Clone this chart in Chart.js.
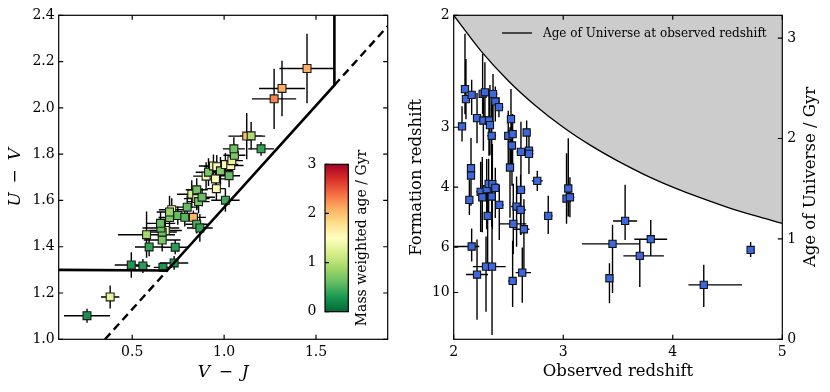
<!DOCTYPE html>
<html><head><meta charset="utf-8">
<script src="https://cdn.jsdelivr.net/npm/chart.js@4.4.0/dist/chart.umd.min.js"></script>
<style>
html,body{margin:0;padding:0;background:#fff;}
#wrap{position:relative;width:830px;height:392px;overflow:hidden;background:#fff;}
canvas{position:absolute;top:0;}
</style></head><body>
<div id="wrap">
<canvas id="c1" width="405" height="392" style="left:0px"></canvas>
<canvas id="c2" width="425" height="392" style="left:405px"></canvas>
</div>
<script>
// ---------- Left panel: UVJ diagram ----------
const vjTicks = [0.5, 1.0, 1.5];
const uvTicks = [1.0, 1.2, 1.4, 1.6, 1.8, 2.0, 2.2, 2.4];
const vj = [0.715,0.680,0.254,0.380,0.495,0.558,0.667,0.728,0.592,0.734,0.663,0.578,0.663,0.656,0.654,0.703,0.703,0.748,0.786,0.799,0.833,0.851,0.868,0.824,0.851,0.851,0.861,0.880,0.902,0.915,0.942,0.960,0.953,0.958,0.980,1.007,1.036,1.027,1.042,1.056,1.053,1.007,1.123,1.147,1.201,1.272,1.315,1.451];
const uv = [1.560,1.470,1.102,1.183,1.321,1.317,1.311,1.330,1.399,1.398,1.429,1.452,1.463,1.481,1.501,1.526,1.550,1.535,1.527,1.571,1.527,1.497,1.481,1.627,1.646,1.608,1.595,1.614,1.705,1.722,1.749,1.746,1.693,1.651,1.728,1.755,1.751,1.707,1.772,1.795,1.823,1.601,1.878,1.879,1.823,2.039,2.084,2.170];
const massAge = [1.4,1.4,0.25,1.3,0.3,0.35,0.3,0.3,0.4,0.35,0.7,0.9,0.65,0.6,0.6,0.7,0.85,0.6,0.55,0.6,2.05,0.5,0.4,1.2,0.65,1.4,0.7,0.6,1.4,0.7,1.35,1.45,1.5,1.45,0.75,1.5,1.55,0.6,1.3,0.7,0.65,0.45,2.0,0.95,0.4,2.3,2.1,2.1];
const vjErr = [0.07,0.09,0.125,0.05,0.09,0.04,0.05,0.077,0.077,0.068,0.1,0.155,0.08,0.1,0.08,0.06,0.07,0.06,0.08,0.06,0.068,0.06,0.07,0.08,0.06,0.07,0.06,0.07,0.07,0.07,0.08,0.07,0.06,0.05,0.07,0.07,0.07,0.06,0.06,0.06,0.06,0.077,0.1,0.06,0.07,0.12,0.125,0.15];
const uvErr = [0.05,0.05,0.03,0.05,0.055,0.03,0.02,0.03,0.04,0.03,0.05,0.1,0.04,0.04,0.05,0.04,0.07,0.04,0.04,0.05,0.03,0.04,0.06,0.06,0.05,0.05,0.05,0.04,0.06,0.06,0.05,0.05,0.05,0.05,0.06,0.05,0.05,0.05,0.05,0.05,0.05,0.05,0.1,0.06,0.03,0.13,0.12,0.15];
// selection boundary (U-V = 1.3, U-V = 0.88(V-J)+0.69, V-J = 1.6)
const selSolidVJ = [0.1, 0.69, 1.6, 1.6];
const selSolidUV = [1.3, 1.297, 2.098, 2.4];
const selDashVJ = [0.352, 0.69, null, 1.6, 1.89];
const selDashUV = [1.0, 1.297, null, 2.098, 2.353];
const cbarTicks = [0, 1, 2, 3];

// ---------- Right panel: formation vs observed redshift ----------
const zObsTicks = [2, 3, 4, 5];
const ageTicks = [0, 1, 2, 3];
const zFormTickLabels = ['2', '3', '4', '6', '10'];
const zFormTickAgeGyr = [3.227, 2.112, 1.516, 0.917, 0.466];
const curveZ = [2.0, 2.25, 2.5, 2.75, 3.0, 3.25, 3.5, 3.75, 4.0, 4.25, 4.5, 4.75, 5.0];
const curveAgeGyr = [3.227, 2.870, 2.573, 2.324, 2.112, 1.931, 1.774, 1.636, 1.516, 1.410, 1.315, 1.231, 1.155];
const zObs =      [2.076,2.103,2.112,2.164,2.158,2.158,2.143,2.164,2.213,2.264,2.285,2.271,2.246,2.261,2.301,2.310,2.295,2.213,2.322,2.331,2.347,2.359,2.380,2.413,2.319,2.353,2.347,2.380,2.416,2.350,2.523,2.498,2.538,2.532,2.514,2.538,2.544,2.574,2.611,2.614,2.614,2.666,2.687,2.687,2.641,2.626,2.763,2.863,3.046,3.030,3.061,3.565,3.450,3.422,3.799,3.699,4.283,4.711];
const zObsErrLo = [0.03,0.03,0.03,0.03,0.02,0.02,0.03,0.16,0.03,0.03,0.03,0.03,0.04,0.03,0.03,0.02,0.12,0.10,0.03,0.03,0.04,0.03,0.03,0.04,0.03,0.03,0.03,0.04,0.04,0.12,0.03,0.03,0.03,0.03,0.03,0.04,0.13,0.05,0.05,0.04,0.04,0.03,0.04,0.04,0.10,0.06,0.05,0.04,0.03,0.03,0.04,0.11,0.28,0.02,0.15,0.15,0.14,0.02];
const zObsErrHi = [0.03,0.03,0.03,0.03,0.02,0.02,0.03,0.07,0.03,0.03,0.03,0.04,0.04,0.03,0.03,0.02,0.18,0.10,0.03,0.03,0.04,0.04,0.03,0.04,0.03,0.05,0.03,0.04,0.04,0.12,0.03,0.03,0.03,0.03,0.03,0.04,0.12,0.05,0.05,0.04,0.04,0.03,0.04,0.04,0.05,0.08,0.05,0.04,0.03,0.03,0.04,0.11,0.25,0.02,0.15,0.22,0.35,0.02];
const formAgeGyr = [2.120,2.492,2.392,2.435,1.704,1.631,1.389,0.924,2.203,2.445,2.460,2.179,1.468,1.415,1.495,1.229,0.724,0.645,2.179,2.133,2.027,2.442,2.369,2.312,1.548,1.545,1.422,1.508,1.339,0.724,2.193,2.027,2.043,1.930,1.711,0.581,1.150,1.322,1.289,1.488,1.867,2.060,1.880,1.847,1.096,0.664,1.578,1.229,1.502,1.402,1.415,1.179,0.950,0.608,0.997,0.831,0.542,0.890];
const formAgeErrLo = [0.15,0.25,0.20,0.20,0.30,0.30,0.15,0.15,0.25,0.20,0.25,0.30,0.40,0.35,0.40,0.50,0.45,0.45,0.35,0.30,0.50,0.30,0.20,0.10,0.35,0.45,0.30,0.30,0.35,0.68,0.50,0.35,0.30,0.40,0.50,0.26,0.30,0.40,0.25,0.45,0.50,0.25,0.20,0.20,0.40,0.30,0.10,0.18,0.28,0.25,0.20,0.19,0.49,0.25,0.17,0.31,0.22,0.07];
const formAgeErrHi = [0.20,0.55,0.40,0.15,0.30,0.25,0.20,0.18,0.25,0.40,0.30,0.30,0.30,0.40,0.30,0.30,0.30,0.35,0.30,0.40,0.35,0.20,0.15,0.10,0.25,0.40,0.30,0.20,0.20,0.60,0.30,0.25,0.20,0.30,0.40,0.40,0.40,0.30,0.35,0.35,0.30,0.12,0.20,0.15,0.30,0.25,0.10,0.20,0.50,0.45,0.20,0.36,0.19,0.15,0.19,0.17,0.20,0.08];

// ---------- styling helpers ----------
const FONT = "'DejaVu Serif', serif";
Chart.defaults.font.family = FONT;
Chart.defaults.font.size = 14;
Chart.defaults.color = '#000';
const RDYLGN_R = ['#006837','#1a9850','#66bd63','#a6d96a','#d9ef8b','#ffffbf','#fee08b','#fdae61','#f46d43','#d73027','#a50026'];
function hex2rgb(h){return [parseInt(h.substr(1,2),16),parseInt(h.substr(3,2),16),parseInt(h.substr(5,2),16)];}
function cmap(a){
  let t = Math.max(0, Math.min(1, a/3)) * 10;
  const i = Math.min(9, Math.floor(t)), f = t - i;
  const c0 = hex2rgb(RDYLGN_R[i]), c1 = hex2rgb(RDYLGN_R[i+1]);
  const c = c0.map((v,k)=>Math.round(v + (c1[k]-v)*f));
  return `rgb(${c[0]},${c[1]},${c[2]})`;
}
function fixedTicks(vals){ return s => { s.ticks = vals.map(v=>({value:v})); }; }
const NOGRID = {display:false, drawTicks:false, tickLength:0};

function errorBars(id, dsIndex, xs, ys, xlo, xhi, ylo, yhi){
  return { id, beforeDatasetDraw(chart, args){
    if (args.index !== dsIndex) return;
    const {ctx, chartArea:a, scales:{x, y}} = chart;
    ctx.save();
    ctx.beginPath(); ctx.rect(a.left, a.top, a.right-a.left, a.bottom-a.top); ctx.clip();
    ctx.strokeStyle = '#000'; ctx.lineWidth = 1.4; ctx.beginPath();
    for (let i=0;i<xs.length;i++){
      const px = x.getPixelForValue(xs[i]), py = y.getPixelForValue(ys[i]);
      ctx.moveTo(x.getPixelForValue(xs[i]-xlo[i]), py); ctx.lineTo(x.getPixelForValue(xs[i]+xhi[i]), py);
      ctx.moveTo(px, y.getPixelForValue(ys[i]-ylo[i])); ctx.lineTo(px, y.getPixelForValue(ys[i]+yhi[i]));
    }
    ctx.stroke(); ctx.restore();
  }};
}
function frameTicks(spec){
  return { id:'frameTicks', afterDraw(chart){
    const {ctx, chartArea:a} = chart; const L = 4.5;
    ctx.save(); ctx.strokeStyle='#000'; ctx.lineWidth=1.2;
    ctx.strokeRect(a.left, a.top, a.right-a.left, a.bottom-a.top);
    ctx.beginPath();
    spec.forEach(({scale, values, sides})=>{
      const s = chart.scales[scale];
      values.forEach(v=>{
        const p = s.getPixelForValue(v);
        sides.forEach(side=>{
          if (side==='bottom'){ctx.moveTo(p,a.bottom);ctx.lineTo(p,a.bottom-L);}
          if (side==='top'){ctx.moveTo(p,a.top);ctx.lineTo(p,a.top+L);}
          if (side==='left'){ctx.moveTo(a.left,p);ctx.lineTo(a.left+L,p);}
          if (side==='right'){ctx.moveTo(a.right,p);ctx.lineTo(a.right-L,p);}
        });
      });
    });
    ctx.stroke(); ctx.restore();
  }};
}

// ---------- left chart ----------
const colorbar = { id:'colorbar', afterDraw(chart){
  const ctx = chart.ctx;
  const x0=325, x1=348.3, y0=164.3, y1=311.7;
  ctx.save();
  const g = ctx.createLinearGradient(0, y1, 0, y0);
  RDYLGN_R.forEach((c,i)=>g.addColorStop(i/10, c));
  ctx.fillStyle = g; ctx.fillRect(x0, y0, x1-x0, y1-y0);
  ctx.strokeStyle='#000'; ctx.lineWidth=1.2; ctx.strokeRect(x0, y0, x1-x0, y1-y0);
  ctx.font = `14px ${FONT}`; ctx.fillStyle='#000'; ctx.textAlign='right'; ctx.textBaseline='middle';
  ctx.beginPath();
  cbarTicks.forEach(v=>{
    const y = y1 - v*(y1-y0)/3;
    ctx.moveTo(x0, y); ctx.lineTo(x0+4, y);
    ctx.fillText(String(v), 316.5, y);
  });
  ctx.stroke();
  ctx.translate(362, 238); ctx.rotate(-Math.PI/2);
  ctx.textAlign='center'; ctx.fillText('Mass weighted age / Gyr', 0, 0);
  ctx.restore();
}};

new Chart(document.getElementById('c1'), {
  type: 'scatter',
  data: { datasets: [
    { data: selSolidVJ.map((v,i)=>({x:v, y:selSolidUV[i]})), showLine:true, borderColor:'#000', borderWidth:2.6, pointRadius:0, fill:false },
    { data: selDashVJ.map((v,i)=>({x:v, y:selDashUV[i]})), showLine:true, spanGaps:false, borderColor:'#000', borderWidth:2.4, borderDash:[8,5], pointRadius:0, fill:false },
    { data: vj.map((v,i)=>({x:v, y:uv[i]})), pointStyle:'rect', pointRadius:5.6, pointHoverRadius:5.6,
      backgroundColor: massAge.map(cmap), borderColor:'#1a1a1a', borderWidth:1.1 }
  ]},
  options: {
    responsive:false, devicePixelRatio:1, animation:false,
    layout:{ padding:{ top:15.3, right:17.3, left:0, bottom:0 } },
    plugins:{ legend:{display:false}, tooltip:{enabled:false} },
    scales: {
      x: { type:'linear', min:0.1, max:1.89, afterBuildTicks: fixedTicks(vjTicks), afterFit: s=>{s.height=52.7;},
           grid:NOGRID, border:{display:false},
           ticks:{ autoSkip:false, maxRotation:0, padding:5, callback:v=>v.toFixed(1) },
           title:{ display:true, text:'V\u2009 \u2212 \u2009J', font:{size:17, style:'italic'}, padding:{top:0,bottom:9} } },
      y: { type:'linear', min:1.0, max:2.4, afterBuildTicks: fixedTicks(uvTicks), afterFit: s=>{s.width=58.7;},
           grid:NOGRID, border:{display:false},
           ticks:{ autoSkip:false, padding:4, callback:v=>v.toFixed(1) },
           title:{ display:true, text:'U\u2009 \u2212 \u2009V', font:{size:17, style:'italic'}, padding:{top:5,bottom:0} } }
    }
  },
  plugins: [
    errorBars('eb1', 2, vj, uv, vjErr, vjErr, uvErr, uvErr),
    frameTicks([{scale:'x', values:vjTicks, sides:['bottom','top']},{scale:'y', values:uvTicks, sides:['left','right']}]),
    colorbar
  ]
});

// ---------- right chart ----------
const rightDecor = { id:'rightDecor', afterDraw(chart){
  const ctx = chart.ctx;
  ctx.save();
  ctx.strokeStyle='#000'; ctx.lineWidth=1.3;
  ctx.beginPath(); ctx.moveTo(97, 33); ctx.lineTo(127, 33); ctx.stroke();
  ctx.font = `12px ${FONT}`; ctx.fillStyle='#000'; ctx.textAlign='left'; ctx.textBaseline='middle';
  ctx.fillText('Age of Universe at observed redshift', 138, 33.5);
  ctx.font = `16.5px ${FONT}`;
  ctx.translate(406, 177); ctx.rotate(-Math.PI/2); ctx.textAlign='center';
  ctx.fillText('Age of Universe / Gyr', 0, 0);
  ctx.restore();
}};

const ageTop = zFormTickAgeGyr[0];
new Chart(document.getElementById('c2'), {
  type: 'scatter',
  data: { datasets: [
    { type:'line', data: curveZ.map((z,i)=>({x:z, y:curveAgeGyr[i]})), fill:'end', backgroundColor:'#cccccc',
      borderColor:'#000', borderWidth:1.3, pointRadius:0, cubicInterpolationMode:'monotone' },
    { data: zObs.map((z,i)=>({x:z, y:formAgeGyr[i]})), pointStyle:'rect', pointRadius:5.1, pointHoverRadius:5.1,
      backgroundColor:'#3d67dc', borderColor:'#111', borderWidth:1.1 }
  ]},
  options: {
    responsive:false, devicePixelRatio:1, animation:false,
    layout:{ padding:{ top:15.3, right:0, left:0, bottom:0 } },
    plugins:{ legend:{display:false}, tooltip:{enabled:false} },
    scales: {
      x: { type:'linear', min:2, max:5, afterBuildTicks: fixedTicks(zObsTicks), afterFit: s=>{s.height=52.7;},
           grid:NOGRID, border:{display:false},
           ticks:{ autoSkip:false, maxRotation:0, padding:5, callback:v=>String(v) },
           title:{ display:true, text:'Observed redshift', font:{size:16.5}, padding:{top:0,bottom:10} } },
      y: { type:'linear', position:'left', min:0, max:ageTop, afterBuildTicks: fixedTicks(zFormTickAgeGyr), afterFit: s=>{s.width=48.7;},
           grid:NOGRID, border:{display:false},
           ticks:{ autoSkip:false, padding:4, callback:(v,i)=>zFormTickLabels[i] },
           title:{ display:true, text:'Formation redshift', font:{size:16.5}, padding:{top:2,bottom:0} } },
      y2: { type:'linear', position:'right', min:0, max:ageTop, afterBuildTicks: fixedTicks(ageTicks), afterFit: s=>{s.width=47.7;},
           grid:NOGRID, border:{display:false},
           ticks:{ autoSkip:false, padding:5, callback:v=>String(v) } }
    }
  },
  plugins: [
    errorBars('eb2', 1, zObs, formAgeGyr, zObsErrLo, zObsErrHi, formAgeErrLo, formAgeErrHi),
    frameTicks([{scale:'x', values:zObsTicks, sides:['bottom','top']},{scale:'y', values:zFormTickAgeGyr, sides:['left']},{scale:'y2', values:ageTicks, sides:['right']}]),
    rightDecor
  ]
});
</script>
</body></html>
